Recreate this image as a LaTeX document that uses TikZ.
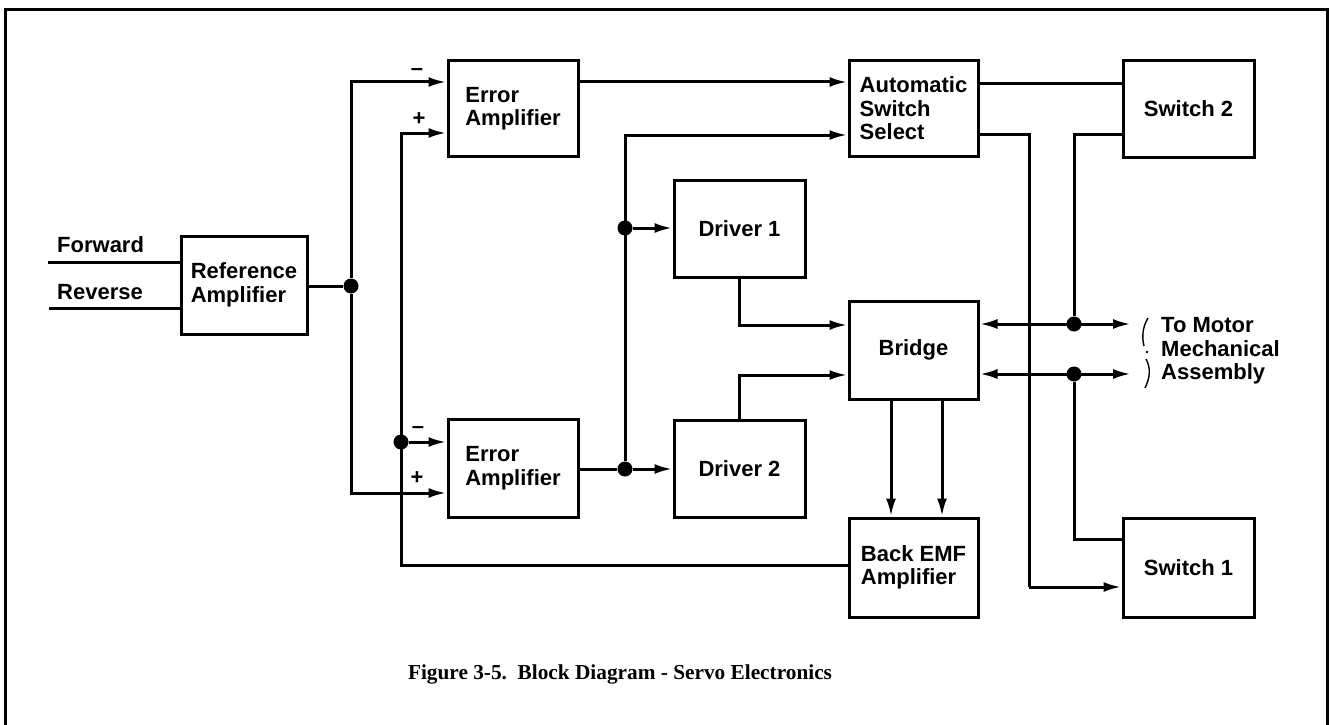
\documentclass[tikz,border=0pt]{standalone}
\usepackage{fontspec}
\usetikzlibrary{arrows.meta,calc}
\newfontfamily\lbsans{Liberation Sans}
\newfontfamily\capfont{Liberation Serif}
\begin{document}
\begin{tikzpicture}[x=1pt,y=-1pt,
  box/.style={draw,line width=3pt,inner sep=0pt,align=left,
    font=\lbsans\bfseries\fontsize{22}{23.5}\selectfont},
  lbl/.style={inner sep=0pt,font=\lbsans\bfseries\fontsize{22}{23.5}\selectfont},
  wire/.style={line width=3pt},
  tip/.tip={Latex[length=18pt,width=10pt]},
  arr/.style={wire,-tip},
  dot/.style={circle,fill,inner sep=0pt,minimum size=15pt}]
\useasboundingbox (0,0) rectangle (1331,725);
% frame
\draw[line width=3pt] (5,725) -- (5,10) -- (1327,10) -- (1327,725);
% boxes
\node[box,minimum width=126pt,minimum height=98pt] (ref) at (244,285) {Reference\\Amplifier};
\node[box,minimum width=130pt,minimum height=95pt] (ea1) at (513,108.5) {Error\\Amplifier};
\node[box,minimum width=130pt,minimum height=98pt] (ea2) at (513,468) {Error\\Amplifier};
\node[box,minimum width=129pt,minimum height=95pt] (ass) at (913.5,108.5) {Automatic\\Switch\\Select};
\node[box,minimum width=131pt,minimum height=97pt] (d1) at (739.5,228.5) {Driver 1};
\node[box,minimum width=131pt,minimum height=97pt] (d2) at (739.5,468.5) {Driver 2};
\node[box,minimum width=129pt,minimum height=98pt] (br) at (913.5,350) {Bridge};
\node[box,minimum width=129pt,minimum height=99pt] (bemf) at (913.5,567.5) {Back EMF\\Amplifier};
\node[box,minimum width=131pt,minimum height=96pt] (sw2) at (1188.5,109) {Switch 2};
\node[box,minimum width=131pt,minimum height=99pt] (sw1) at (1188.5,567.5) {Switch 1};
% labels
\node[lbl,anchor=base west] (lfw) at (57,252) {Forward};
\node[lbl,anchor=base west] (lrv) at (57,299) {Reverse};
\node[lbl] (m1lbl) at (417,72) {–};
\node[lbl] (p1lbl) at (419,119) {+};
\node[lbl] (m2lbl) at (418,430) {–};
\node[lbl] (p2lbl) at (417,478) {+};
\node[lbl,anchor=west,align=left] (tomotor) at (1161,351) {To Motor\\Mechanical\\Assembly};
\node[inner sep=0pt,anchor=base,font=\capfont\bfseries\fontsize{21.3}{24}\selectfont] (cap) at (620,679)
  {Figure 3-5.\ \ Block Diagram - Servo Electronics};
% junction dots
\node[dot] (j1) at (351,286) {};
\node[dot] (j2) at (401,442) {};
\node[dot] (j3) at (625,469) {};
\node[dot] (j4) at (625,228) {};
\node[dot] (j5) at (1074,324) {};
\node[dot] (j6) at (1074,374) {};
% coordinates
\coordinate (fw) at (48,262);
\coordinate (rv) at (49,308);
\coordinate (fbk) at (bemf.west |- 0,565);
\coordinate (c1) at (1029,587);
\coordinate (e1) at (1131,324);
\coordinate (e2) at (1131,374);
% inputs
\draw[wire] (fw) -- (fw -| ref.west);
\draw[wire] (rv) -- (rv -| ref.west);
\draw[wire] (j1 -| ref.east) -- (j1);
\draw[arr] (j1) |- (ea1.west |- 0,82);
\draw[arr] (j1) |- (ea2.west |- 0,493);
% feedback
\draw[arr] (fbk) -- (fbk -| j2) |- (ea1.west |- 0,133);
\draw[arr] (j2) -- (j2 -| ea2.west);
% error amps out
\draw[arr] (ea1.east |- 0,82) -- (ass.west |- 0,82);
\draw[wire] (ea2.east |- j3) -- (j3);
\draw[arr] (j3) -- (j3 -| d2.west);
\draw[arr] (j4) -- (j4 -| d1.west);
\draw[arr] (j3) |- (ass.west |- 0,135);
% drivers to bridge
\draw[arr] (d1.south) |- (br.west |- 0,325);
\draw[arr] (d2.north) |- (br.west |- 0,375);
% bridge to back emf
\draw[arr] (br.south -| 891,0) -- (bemf.north -| 891,0);
\draw[arr] (br.south -| 942,0) -- (bemf.north -| 942,0);
% switch select outputs
\draw[wire] (ass.east |- 0,84) -- (sw2.west |- 0,84);
\draw[wire] (ass.east |- 0,134) -| (c1);
\draw[arr] (c1) -- (sw1.west |- c1);
% switches to bus
\draw[wire] (sw2.west |- 0,134) -| (j5);
\draw[wire] (j6) |- (sw1.west |- 0,539);
% motor bus
\draw[wire,tip-tip] (br.east |- j5) -- (e1);
\draw[wire,tip-tip] (br.east |- j6) -- (e2);
% brace
\draw[line width=1.4pt] (1148,318) .. controls (1142,328) and (1142,338) .. (1144,346);
\fill (1147,352) circle (1.4pt);
\draw[line width=1.4pt] (1146,359) .. controls (1151,368) and (1150,378) .. (1145,388);
\end{tikzpicture}
\end{document}
